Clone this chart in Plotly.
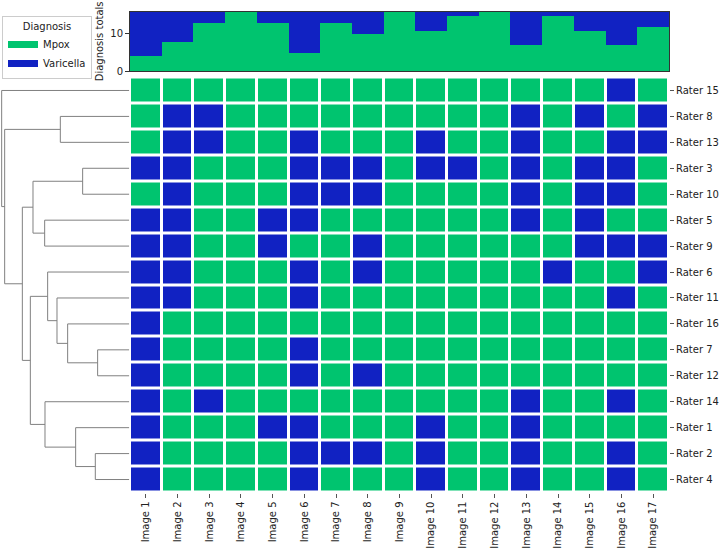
import plotly.graph_objects as go

# ---------------- data ----------------
images = ["Image 1", "Image 2", "Image 3", "Image 4", "Image 5", "Image 6", "Image 7",
          "Image 8", "Image 9", "Image 10", "Image 11", "Image 12", "Image 13",
          "Image 14", "Image 15", "Image 16", "Image 17"]

raters = ["Rater 15", "Rater 8", "Rater 13", "Rater 3", "Rater 10", "Rater 5", "Rater 9",
          "Rater 6", "Rater 11", "Rater 16", "Rater 7", "Rater 12", "Rater 14", "Rater 1",
          "Rater 2", "Rater 4"]

# 0 = Mpox, 1 = Varicella ; one row per rater (same order as `raters`)
diagnoses = [
    [0, 0, 0, 0, 0, 0, 0, 0, 0, 0, 0, 0, 0, 0, 0, 1, 0],  # Rater 15
    [0, 1, 1, 0, 0, 0, 0, 0, 0, 0, 0, 0, 1, 0, 1, 0, 1],  # Rater 8
    [0, 1, 1, 0, 0, 1, 0, 0, 0, 1, 0, 0, 1, 0, 0, 1, 1],  # Rater 13
    [1, 1, 0, 0, 0, 1, 1, 1, 0, 1, 1, 0, 1, 0, 1, 1, 0],  # Rater 3
    [0, 1, 0, 0, 0, 1, 1, 1, 0, 0, 0, 0, 1, 0, 1, 1, 0],  # Rater 10
    [1, 1, 0, 0, 1, 1, 0, 0, 0, 0, 0, 0, 1, 0, 1, 0, 0],  # Rater 5
    [1, 1, 0, 0, 1, 0, 0, 1, 0, 0, 0, 0, 0, 0, 1, 1, 1],  # Rater 9
    [1, 1, 0, 0, 0, 1, 0, 1, 0, 0, 0, 0, 0, 1, 0, 0, 1],  # Rater 6
    [1, 1, 0, 0, 0, 1, 0, 0, 0, 0, 0, 0, 0, 0, 0, 1, 0],  # Rater 11
    [1, 0, 0, 0, 0, 0, 0, 0, 0, 0, 0, 0, 0, 0, 0, 0, 0],  # Rater 16
    [1, 0, 0, 0, 0, 1, 0, 0, 0, 0, 0, 0, 0, 0, 0, 0, 0],  # Rater 7
    [1, 0, 0, 0, 0, 1, 0, 1, 0, 0, 0, 0, 0, 0, 0, 0, 0],  # Rater 12
    [1, 0, 1, 0, 0, 0, 0, 0, 0, 0, 0, 0, 1, 0, 0, 1, 0],  # Rater 14
    [1, 0, 0, 0, 1, 1, 0, 0, 0, 1, 0, 0, 1, 0, 0, 0, 0],  # Rater 1
    [1, 0, 0, 0, 0, 1, 1, 1, 0, 1, 0, 0, 1, 0, 0, 1, 0],  # Rater 2
    [1, 0, 0, 0, 0, 1, 0, 0, 0, 1, 0, 0, 1, 0, 0, 1, 0],  # Rater 4
]

categories = ["Mpox", "Varicella"]

# hierarchical clustering merges: (child a, child b, height); ints refer to earlier merges
merges = [
    ("Rater 8", "Rater 13", 2.07),   # 0
    ("Rater 3", "Rater 10", 1.40),   # 1
    ("Rater 5", "Rater 9", 2.54),    # 2
    (1, 2, 2.89),                    # 3
    ("Rater 7", "Rater 12", 0.95),   # 4
    ("Rater 16", 4, 1.85),           # 5
    ("Rater 11", 5, 2.17),           # 6
    ("Rater 6", 6, 2.45),            # 7
    ("Rater 2", "Rater 4", 1.02),    # 8
    ("Rater 1", 8, 1.61),            # 9
    ("Rater 14", 9, 2.53),           # 10
    (7, 10, 2.97),                   # 11
    (3, 11, 3.21),                   # 12
    (0, 12, 3.74),                   # 13
    ("Rater 15", 13, 3.83),          # 14
]

# ---------------- style ----------------
GREEN = "#00c46f"
BLUE = "#1122c2"
W, H = 720, 548
FONT = "DejaVu Sans"

# derived totals
n_r = len(raters)
var_totals = [sum(row[j] for row in diagnoses) for j in range(len(images))]
mpox_totals = [n_r - v for v in var_totals]

# dendrogram geometry computed from merges
node_pos = []
def pos(c):
    if isinstance(c, str):
        return (0.0, float(raters.index(c)))
    return node_pos[c]

dx, dy = [], []
for a, b, h in merges:
    ha, ya = pos(a)
    hb, yb = pos(b)
    dx += [ha, h, h, hb, None]
    dy += [ya, ya, yb, yb, None]
    node_pos.append((h, (ya + yb) / 2))

fig = go.Figure()

fig.add_trace(go.Scatter(x=dx, y=dy, mode="lines", line=dict(color="#808080", width=1),
                         xaxis="x", yaxis="y", showlegend=False, hoverinfo="skip"))

fig.add_trace(go.Heatmap(z=diagnoses, x=list(range(len(images))), y=list(range(n_r)),
                         xgap=3, ygap=3, zmin=0, zmax=1,
                         colorscale=[[0, GREEN], [0.5, GREEN], [0.5, BLUE], [1, BLUE]],
                         showscale=False, xaxis="x2", yaxis="y2"))

fig.add_trace(go.Bar(x=list(range(len(images))), y=mpox_totals, width=1,
                     marker=dict(color=GREEN, line=dict(width=0)),
                     xaxis="x3", yaxis="y3", showlegend=False, name=categories[0]))
fig.add_trace(go.Bar(x=list(range(len(images))), y=var_totals, width=1,
                     marker=dict(color=BLUE, line=dict(width=0)),
                     xaxis="x3", yaxis="y3", showlegend=False, name=categories[1]))

for name, col in zip(categories, [GREEN, BLUE]):
    fig.add_trace(go.Scatter(x=[None], y=[None], mode="lines", name=name,
                             line=dict(color=col, width=7), xaxis="x3", yaxis="y3"))

hm_x = [130 / W, 669 / W]
hm_y = [1 - 492.5 / H, 1 - 77.5 / H]
top_y = [1 - 71 / H, 1 - 11.7 / H]

fig.update_layout(
    width=W, height=H,
    margin=dict(l=0, r=0, t=0, b=0, autoexpand=False),
    paper_bgcolor="white", plot_bgcolor="white",
    font=dict(family=FONT, size=10, color="#222222"),
    barmode="stack", bargap=0,
    xaxis=dict(domain=[0, 129.3 / W], range=[3.88, 0], visible=False, anchor="y",
               automargin=False),
    yaxis=dict(domain=hm_y, range=[n_r - 0.5, -0.5], visible=False, anchor="x",
               automargin=False),
    xaxis2=dict(domain=hm_x, range=[-0.5, len(images) - 0.5], anchor="y2",
                tickmode="array", tickvals=list(range(len(images))), ticktext=images,
                tickangle=-90, ticks="outside", ticklen=4, tickcolor="#555",
                showgrid=False, zeroline=False, showline=False, automargin=False),
    yaxis2=dict(domain=hm_y, range=[n_r - 0.5, -0.5], anchor="x2", side="right",
                tickmode="array", tickvals=list(range(n_r)), ticktext=raters,
                ticks="outside", ticklen=4, tickcolor="#555",
                showgrid=False, zeroline=False, showline=False, automargin=False),
    xaxis3=dict(domain=hm_x, range=[-0.5, len(images) - 0.5], anchor="y3",
                showticklabels=False, ticks="", showgrid=False, zeroline=False,
                showline=True, mirror=True, linecolor="#333", linewidth=1,
                automargin=False),
    yaxis3=dict(domain=top_y, range=[0, n_r], anchor="x3",
                tickmode="array", tickvals=[0, 10], ticks="outside", ticklen=4,
                tickcolor="#333", showgrid=False, zeroline=False,
                showline=True, mirror=True, linecolor="#333", linewidth=1,
                automargin=False,
                title=dict(text="Diagnosis totals", standoff=4, font=dict(size=10))),
    legend=dict(x=2 / W, y=1 - 16 / H, xanchor="left", yanchor="top",
                traceorder="normal",
                bordercolor="#cccccc", borderwidth=1, bgcolor="white",
                font=dict(size=10), itemwidth=30, tracegroupgap=0,
                title=dict(text="Diagnosis", side="top center", font=dict(size=10))),
)

fig.write_html("out.html", config={"displayModeBar": False},
               post_script="document.body.style.margin='0';document.body.style.padding='0';")
